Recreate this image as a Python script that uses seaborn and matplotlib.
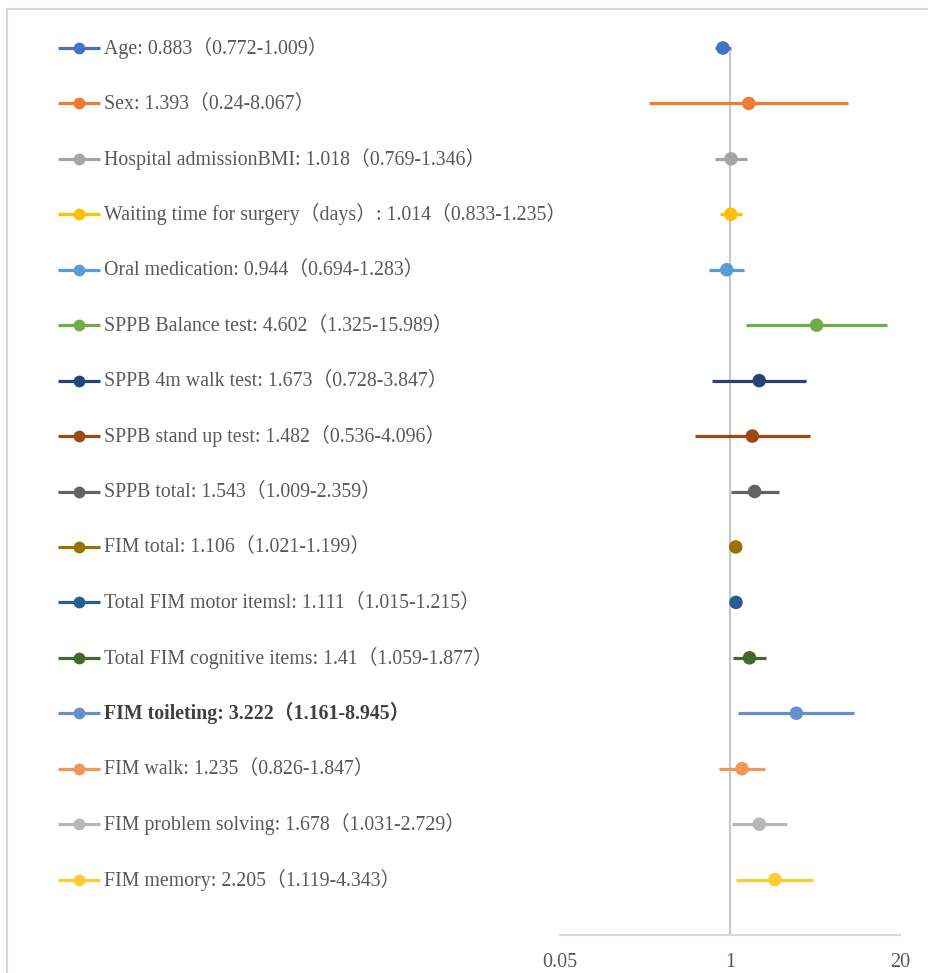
import matplotlib
matplotlib.use("Agg")
import matplotlib.pyplot as plt
from matplotlib.patches import Rectangle
import seaborn as sns
import pandas as pd

# Odds ratios with 95% confidence intervals
labels = [
    "Age", "Sex", "Hospital admissionBMI", "Waiting time for surgery（days）",
    "Oral medication", "SPPB Balance test", "SPPB 4m walk test",
    "SPPB stand up test", "SPPB total", "FIM total", "Total FIM motor itemsl",
    "Total FIM cognitive items", "FIM toileting", "FIM walk",
    "FIM problem solving", "FIM memory",
]
odds = [0.883, 1.393, 1.018, 1.014, 0.944, 4.602, 1.673, 1.482, 1.543,
        1.106, 1.111, 1.41, 3.222, 1.235, 1.678, 2.205]
ci_low = [0.772, 0.24, 0.769, 0.833, 0.694, 1.325, 0.728, 0.536, 1.009,
          1.021, 1.015, 1.059, 1.161, 0.826, 1.031, 1.119]
ci_high = [1.009, 8.067, 1.346, 1.235, 1.283, 15.989, 3.847, 4.096, 2.359,
           1.199, 1.215, 1.877, 8.945, 1.847, 2.729, 4.343]
odds_text = ["0.883", "1.393", "1.018", "1.014", "0.944", "4.602", "1.673",
             "1.482", "1.543", "1.106", "1.111", "1.41", "3.222", "1.235",
             "1.678", "2.205"]
low_text = ["0.772", "0.24", "0.769", "0.833", "0.694", "1.325", "0.728",
            "0.536", "1.009", "1.021", "1.015", "1.059", "1.161", "0.826",
            "1.031", "1.119"]
high_text = ["1.009", "8.067", "1.346", "1.235", "1.283", "15.989", "3.847",
             "4.096", "2.359", "1.199", "1.215", "1.877", "8.945", "1.847",
             "2.729", "4.343"]
x_ticks = [0.05, 1, 20]
x_tick_labels = ["0.05", "1", "20"]

colors = ["#4472C4", "#ED7D31", "#A5A5A5", "#FFC000", "#5B9BD5", "#70AD47",
          "#264478", "#9E480E", "#636363", "#997300", "#255E91", "#43682B",
          "#698ED0", "#F1975A", "#B7B7B7", "#FFCD33"]

sns.set_theme(style="white")
plt.rcParams["font.family"] = ["Liberation Serif", "Noto Sans CJK JP"]

W, H = 929, 973
fig = plt.figure(figsize=(W / 100, H / 100), dpi=100)

# outer chart frame
fig.patches.append(Rectangle((7 / W, -0.1), 1.2, 1.1 - 9 / H,
                             transform=fig.transFigure, fill=False,
                             edgecolor="#D9D9D9", linewidth=1.5))

n = len(labels)
top_px, bot_px = 48, 935
left_px, right_px = 560, 900
ax = fig.add_axes([left_px / W, (H - bot_px) / H,
                   (right_px - left_px) / W, (bot_px - top_px) / H])
lax = fig.add_axes([0, (H - bot_px) / H, left_px / W, (bot_px - top_px) / H])

df = pd.DataFrame({"label": labels, "odds": odds, "low": ci_low,
                   "high": ci_high, "row": range(n)})

ax.set_xscale("log")
ax.set_xlim(x_ticks[0], x_ticks[-1])
ax.set_ylim(16, 0)

# reference line at OR = 1
ax.axvline(1, color="#C8C8C8", linewidth=1.5, zorder=1)

# confidence intervals
ax.hlines(df["row"], df["low"], df["high"], colors=colors, linewidth=2.3,
          zorder=2, clip_on=False)
sns.scatterplot(data=df, x="odds", y="row", hue="label", palette=colors,
                s=95, edgecolor="none", legend=False, ax=ax, zorder=3,
                clip_on=False)

for s in ["top", "left", "right"]:
    ax.spines[s].set_visible(False)
ax.spines["bottom"].set_color("#D9D9D9")
ax.spines["bottom"].set_linewidth(1.5)
ax.set_yticks([])
ax.set_xticks(x_ticks)
ax.set_xticklabels(x_tick_labels)
ax.xaxis.set_minor_locator(matplotlib.ticker.NullLocator())
ax.tick_params(axis="x", length=0, pad=13, labelsize=14.5,
               labelcolor="#595959")
ax.set_xlabel("")
ax.set_ylabel("")

# series labels with line+marker keys
lax.set_xlim(0, left_px)
lax.set_ylim(16, 0)
lax.axis("off")
for i in range(n):
    lax.plot([58, 100], [i, i], color=colors[i], linewidth=2.3,
             solid_capstyle="butt", clip_on=False)
    lax.plot([79], [i], marker="o", markersize=8.5, color=colors[i],
             markeredgewidth=0, clip_on=False)
    txt = f"{labels[i]}: {odds_text[i]}（{low_text[i]}-{high_text[i]}）"
    lax.text(104, i, txt, va="center", ha="left", fontsize=14.3,
             color="#404040" if i == 12 else "#595959",
             fontweight="bold" if i == 12 else "normal")

fig.savefig("out.png", dpi=100)
